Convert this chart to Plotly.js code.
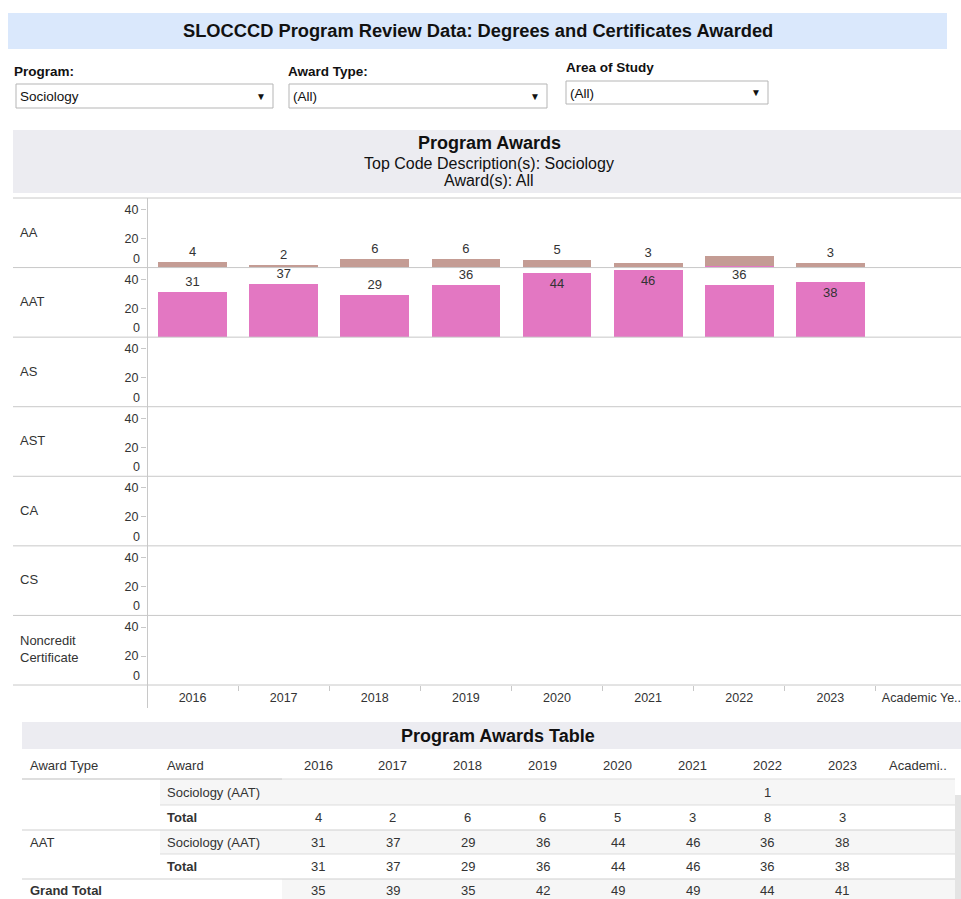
<!DOCTYPE html>
<html>
<head>
<meta charset="utf-8">
<script src="https://cdn.plot.ly/plotly-3.0.1.min.js"></script>
<style>
html,body{margin:0;padding:0;background:#fff;}
#chart{width:961px;height:899px;}
</style>
</head>
<body>
<div id="chart"></div>
<script>
// ---------- DATA ----------
const years = ['2016','2017','2018','2019','2020','2021','2022','2023'];
const extraColumn = 'Academic Ye..';
const rowLabels = ['AA','AAT','AS','AST','CA','CS','Noncredit<br>Certificate'];
const aaMain = [4,2,6,6,5,3,7,3];        // brown segment in AA row
const aaAat = [0,0,0,0,0,0,1,0];         // pink segment in AA row
const aaTotal = [4,2,6,6,5,3,8,3];
const aatValues = [31,37,29,36,44,46,36,38];
const aatLabelPos = ['outside','outside','outside','outside','inside','inside','outside','inside'];
const yTickVals = [20,40];
const tableHeader = ['Award Type','Award'];
const tableExtraHeader = 'Academi..';
const tblAaDetail = [null,null,null,null,null,null,1,null];
const tblAaTotal = [4,2,6,6,5,3,8,3];
const tblAatDetail = [31,37,29,36,44,46,36,38];
const tblAatTotal = [31,37,29,36,44,46,36,38];
const tblGrandTotal = [35,39,35,42,49,49,44,41];

// ---------- HELPERS ----------
const W = 961, H = 899;
const X = p => p / W;
const Y = p => 1 - p / H;
const FONT = 'Liberation Sans, Arial, Helvetica, sans-serif';
const PINK = '#e377c2', BROWN = '#c49c94', TXT = '#333333';
const SMALL = 12.5;

const chartTop = 198, chartBottom = 685;
const rowH = (chartBottom - chartTop) / rowLabels.length;
const xLeft = 147;

const traces = [];
const layout = {
  width: W, height: H,
  margin: {l: 0, r: 0, t: 0, b: 0},
  paper_bgcolor: '#ffffff', plot_bgcolor: 'rgba(0,0,0,0)',
  showlegend: false,
  barmode: 'stack', bargap: 0.245,
  font: {family: FONT, size: SMALL, color: TXT},
  shapes: [], annotations: [],
  hovermode: false
};

const nRows = rowLabels.length;
layout.xaxis = {
  type: 'category',
  categoryorder: 'array',
  categoryarray: years.concat([extraColumn]),
  domain: [X(xLeft), 1],
  range: [-0.5, 8.434],
  anchor: 'y' + nRows,
  showgrid: false, zeroline: false, showline: false,
  ticks: 'outside', tickson: 'boundaries', ticklen: 5, tickcolor: '#c8c8c8',
  ticklabelstandoff: 3,
  tickfont: {family: FONT, size: SMALL, color: TXT},
  fixedrange: true
};

for (let i = 0; i < nRows; i++) {
  const key = i === 0 ? 'yaxis' : 'yaxis' + (i + 1);
  const top = chartTop + i * rowH, bot = top + rowH;
  layout[key] = {
    domain: [Y(bot), Y(top)],
    range: [0, 48],
    anchor: 'x',
    tickvals: yTickVals,
    ticktext: yTickVals.map(String),
    ticks: 'outside', ticklen: 5, tickcolor: '#c8c8c8',
    showgrid: false, zeroline: false, showline: false,
    tickfont: {family: FONT, size: SMALL, color: TXT},
    fixedrange: true
  };
  // "0" label, lifted above baseline like the original
  layout.annotations.push({
    xref: 'paper', yref: i === 0 ? 'y' : 'y' + (i + 1),
    x: X(142), y: 0, yshift: 9, xanchor: 'right', yanchor: 'middle',
    text: '0', showarrow: false, font: {family: FONT, size: SMALL, color: TXT}
  });
  // row label
  const lines = rowLabels[i].split('<br>').length;
  layout.annotations.push({
    xref: 'paper', yref: 'paper',
    x: X(18), y: Y(lines > 1 ? top + rowH * 0.5 - 1 : top + rowH * 0.49),
    xanchor: 'left', yanchor: 'middle', align: 'left',
    text: rowLabels[i], showarrow: false,
    font: {family: FONT, size: 13, color: TXT}
  });
  // row separator
  layout.shapes.push({
    type: 'line', xref: 'paper', yref: 'paper',
    x0: X(13), x1: 1, y0: Y(top), y1: Y(top),
    line: {color: '#c8c8c8', width: 1}
  });
  if (i >= 2) {
    traces.push({
      type: 'scatter', mode: 'markers', x: years, y: years.map(() => null),
      xaxis: 'x', yaxis: 'y' + (i + 1), hoverinfo: 'skip'
    });
  }
}
// bottom separator + y axis line
layout.shapes.push({type: 'line', xref: 'paper', yref: 'paper', x0: X(13), x1: 1,
  y0: Y(chartBottom), y1: Y(chartBottom), line: {color: '#c8c8c8', width: 1}});
layout.shapes.push({type: 'line', xref: 'paper', yref: 'paper', x0: X(xLeft + 0.5), x1: X(xLeft + 0.5),
  y0: Y(chartTop), y1: Y(708), line: {color: '#c8c8c8', width: 1}});

// ---------- BARS ----------
traces.push({
  type: 'bar', x: years, y: aaAat, xaxis: 'x', yaxis: 'y',
  marker: {color: PINK}, hoverinfo: 'skip'
});
traces.push({
  type: 'bar', x: years, y: aaMain, xaxis: 'x', yaxis: 'y',
  marker: {color: BROWN},
  text: aaTotal.map((v, i) => aaAat[i] > 0 ? '' : String(v)),
  textposition: 'outside', cliponaxis: false, constraintext: 'none',
  textfont: {family: FONT, size: 13, color: TXT},
  hoverinfo: 'skip'
});
traces.push({
  type: 'bar', x: years, y: aatValues, xaxis: 'x', yaxis: 'y2',
  marker: {color: PINK},
  text: aatValues.map(String),
  textposition: aatLabelPos, insidetextanchor: 'end',
  cliponaxis: false, constraintext: 'none',
  insidetextfont: {family: FONT, size: 13, color: TXT},
  outsidetextfont: {family: FONT, size: 13, color: TXT},
  hoverinfo: 'skip'
});

// ---------- HEADER / FILTERS ----------
const S = layout.shapes, A = layout.annotations;
function rect(x0, y0, x1, y1, fill, line) {
  S.push({type: 'rect', xref: 'paper', yref: 'paper', x0: X(x0), x1: X(x1), y0: Y(y1), y1: Y(y0),
    fillcolor: fill, line: line ? {color: line, width: 1} : {width: 0}, layer: 'below'});
}
function hline(x0, x1, y, color) {
  S.push({type: 'line', xref: 'paper', yref: 'paper', x0: X(x0), x1: X(x1), y0: Y(y), y1: Y(y),
    line: {color: color, width: 1}});
}
function txt(x, y, t, opt) {
  opt = opt || {};
  const anchor = opt.anchor || 'left';
  A.push({xref: 'paper', yref: 'paper', x: X(anchor === 'left' ? x - 2 : x), y: Y(y), text: t, showarrow: false,
    xanchor: anchor, yanchor: 'middle',
    font: {family: FONT, size: opt.size || 13, color: opt.color || TXT}});
}

rect(8, 13, 947, 49, '#dae8fc');
txt(478, 31, '<b>SLOCCCD Program Review Data: Degrees and Certificates Awarded</b>', {anchor: 'center', size: 18.3, color: '#111'});

const filters = [
  {label: 'Program:', value: 'Sociology', lx: 14, ly: 71, x0: 16, x1: 273, y0: 84, y1: 108},
  {label: 'Award Type:', value: '(All)', lx: 288, ly: 71, x0: 289, x1: 547, y0: 84, y1: 108},
  {label: 'Area of Study', value: '(All)', lx: 566, ly: 67, x0: 566, x1: 768, y0: 81, y1: 104}
];
filters.forEach(f => {
  txt(f.lx, f.ly, '<b>' + f.label + '</b>', {size: 13.5, color: '#111'});
  rect(f.x0, f.y0, f.x1, f.y1, '#ffffff', '#b5b5b5');
  txt(f.x0 + 4, (f.y0 + f.y1) / 2 + 1, f.value, {size: 13.5, color: '#111'});
  txt(f.x1 - 12, (f.y0 + f.y1) / 2, '▼', {anchor: 'center', size: 10, color: '#111'});
});

// chart header
rect(13, 130, 961, 193, '#ececf1');
txt(489, 143, '<b>Program Awards</b>', {anchor: 'center', size: 18, color: '#111'});
txt(489, 163, 'Top Code Description(s): Sociology', {anchor: 'center', size: 16, color: '#111'});
txt(489, 180, 'Award(s): All', {anchor: 'center', size: 16, color: '#111'});

// ---------- TABLE ----------
rect(22, 722, 961, 749, '#ececf1');
txt(498, 736, '<b>Program Awards Table</b>', {anchor: 'center', size: 18, color: '#111'});

const colX = years.map((_, i) => 318 + i * 74.9);
const rowY = [792, 817, 842, 866, 890];
// backgrounds
rect(160, 779, 955, 805, '#f6f6f6');
rect(160, 830, 955, 854, '#f6f6f6');
rect(282, 879, 955, 899, '#f6f6f6');
rect(955, 795, 961, 899, '#e4e4e4');
// lines
hline(22, 282, 779, '#bdbdbd');
hline(282, 955, 779, '#dddddd');
hline(160, 955, 805, '#dddddd');
hline(22, 955, 830, '#cfcfcf');
hline(160, 955, 854, '#dddddd');
hline(22, 955, 879, '#cfcfcf');

txt(30, 765, tableHeader[0]);
txt(167, 765, tableHeader[1]);
years.forEach((yr, i) => txt(colX[i], 765, yr, {anchor: 'center'}));
txt(918, 765, tableExtraHeader, {anchor: 'center'});

const tableRows = [
  {type: '', award: 'Sociology (AAT)', vals: tblAaDetail},
  {type: '', award: '<b>Total</b>', vals: tblAaTotal},
  {type: 'AAT', award: 'Sociology (AAT)', vals: tblAatDetail},
  {type: '', award: '<b>Total</b>', vals: tblAatTotal},
  {type: '<b>Grand Total</b>', award: '', vals: tblGrandTotal}
];
tableRows.forEach((r, ri) => {
  if (r.type) txt(30, rowY[ri], r.type);
  if (r.award) txt(167, rowY[ri], r.award);
  r.vals.forEach((v, ci) => { if (v !== null) txt(colX[ci], rowY[ri], String(v), {anchor: 'center'}); });
});

Plotly.newPlot('chart', traces, layout, {staticPlot: true, displayModeBar: false});
</script>
</body>
</html>
